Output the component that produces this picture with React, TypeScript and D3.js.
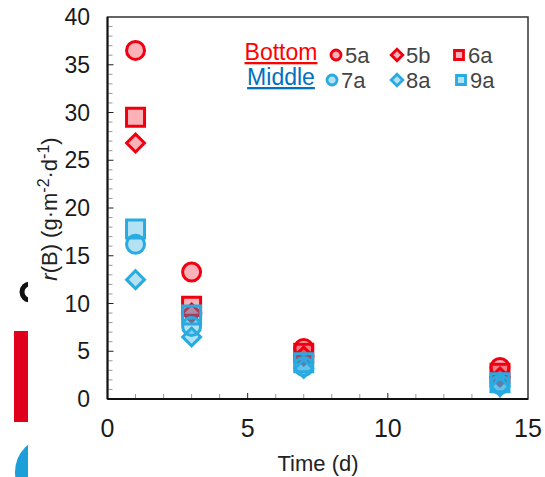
import React, { useEffect, useRef } from 'react';
import * as d3 from 'd3';

// sampling days
const days = [1, 3, 7, 14];

// r(B) values per column
const s5a = [36.5, 13.3, 5.3, 3.3];
const s5b = [26.8, 9.0, 4.5, 2.3];
const s6a = [29.5, 9.7, 4.8, 2.7];
const s7a = [16.2, 7.6, 3.4, 1.5];
const s8a = [12.5, 6.5, 3.2, 1.3];
const s9a = [17.8, 8.8, 3.8, 1.7];

const seriesNames = ['5a', '5b', '6a', '7a', '8a', '9a'];
const seriesShapes = ['circle', 'diamond', 'square', 'circle', 'diamond', 'square'];
const groupNames = ['Bottom', 'Middle'];

const xTicks = [0, 5, 10, 15];
const yTicks = [0, 5, 10, 15, 20, 25, 30, 35, 40];

const RED = '#f0000f';
const RED_FILL = 'rgba(240,0,20,0.3)';
const BLUE = '#29abe2';
const BLUE_FILL = 'rgba(41,171,226,0.35)';
const FONT = '"Liberation Sans", Arial, sans-serif';

const shapePath = (shape: string, size: number) => {
  if (shape === 'circle') {
    const p = d3.path();
    p.arc(0, 0, size, 0, Math.PI * 2);
    p.closePath();
    return p.toString();
  }
  if (shape === 'square') {
    return `M${-size},${-size}H${size}V${size}H${-size}Z`;
  }
  const d = size * 1.05;
  return `M0,${-d}L${d},0L0,${d}L${-d},0Z`;
};

const App = () => {
  const svgRef = useRef<SVGSVGElement>(null);

  useEffect(() => {
    const values = [s5a, s5b, s6a, s7a, s8a, s9a];
    const svg = d3.select(svgRef.current);
    svg.selectAll('*').remove();

    const x = d3.scaleLinear().domain([0, 15]).range([107.5, 528]);
    const y = d3.scaleLinear().domain([0, 40]).range([399, 17]);

    // leftover bits of the neighbouring figure
    const left = svg.append('g');
    left.append('defs').append('clipPath').attr('id', 'cut')
      .append('rect').attr('x', 14).attr('y', 0).attr('width', 14).attr('height', 477);
    const cut = left.append('g').attr('clip-path', 'url(#cut)');
    cut.append('circle').attr('cx', 30).attr('cy', 292).attr('r', 8)
      .attr('fill', 'none').attr('stroke', '#111').attr('stroke-width', 5);
    cut.append('rect').attr('x', 14).attr('y', 331).attr('width', 14).attr('height', 91)
      .attr('fill', '#e0001b');
    cut.append('circle').attr('cx', 50).attr('cy', 472).attr('r', 35).attr('fill', '#1a9fd9');

    // frame
    svg.append('rect')
      .attr('x', x(0)).attr('y', y(40))
      .attr('width', x(15) - x(0)).attr('height', y(0) - y(40))
      .attr('fill', 'none').attr('stroke', '#333').attr('stroke-width', 1.5);

    // minor / major ticks, pointing inward
    const g = svg.append('g');
    d3.range(1, 40).forEach((v) => {
      g.append('line')
        .attr('x1', x(0)).attr('x2', x(0) + (v % 5 === 0 ? 6 : 5))
        .attr('y1', y(v)).attr('y2', y(v))
        .attr('stroke', v % 5 === 0 ? '#222' : '#999').attr('stroke-width', 1);
    });
    d3.range(1, 15).forEach((v) => {
      g.append('line')
        .attr('x1', x(v)).attr('x2', x(v))
        .attr('y1', y(0)).attr('y2', y(0) - (v % 5 === 0 ? 6 : 5))
        .attr('stroke', v % 5 === 0 ? '#222' : '#999').attr('stroke-width', 1);
    });

    // axis lines
    svg.append('line').attr('x1', x(0)).attr('x2', x(0)).attr('y1', y(40)).attr('y2', y(0))
      .attr('stroke', '#111').attr('stroke-width', 2);
    svg.append('line').attr('x1', x(0)).attr('x2', x(15)).attr('y1', y(0)).attr('y2', y(0))
      .attr('stroke', '#111').attr('stroke-width', 2);

    // tick labels
    svg.append('g').selectAll('text').data(yTicks).join('text')
      .attr('x', 90).attr('y', (d) => y(d) + 8)
      .attr('text-anchor', 'end')
      .attr('font-family', FONT).attr('font-size', 23).attr('fill', '#1a1a1a')
      .text((d) => d);
    svg.append('g').selectAll('text').data(xTicks).join('text')
      .attr('x', (d) => x(d)).attr('y', 437)
      .attr('text-anchor', 'middle')
      .attr('font-family', FONT).attr('font-size', 25).attr('fill', '#1a1a1a')
      .text((d) => d);

    // axis titles
    svg.append('text')
      .attr('x', 318).attr('y', 471)
      .attr('text-anchor', 'middle')
      .attr('font-family', FONT).attr('font-size', 22).attr('fill', '#222')
      .text('Time (d)');

    const yl = svg.append('text')
      .attr('transform', 'translate(57,209) rotate(-90)')
      .attr('text-anchor', 'middle')
      .attr('font-family', FONT).attr('font-size', 22).attr('fill', '#222');
    yl.append('tspan').attr('font-style', 'italic').text('r');
    yl.append('tspan').text('(B) (g·m');
    yl.append('tspan').attr('font-size', 16).attr('dy', -8).text('-2');
    yl.append('tspan').attr('dy', 8).text('·d');
    yl.append('tspan').attr('font-size', 16).attr('dy', -8).text('-1');
    yl.append('tspan').attr('dy', 8).text(')');

    // data markers
    const pts = svg.append('g');
    values.forEach((vals, i) => {
      const isRed = i < 3;
      const shape = seriesShapes[i];
      const size = shape === 'circle' ? 9 : shape === 'square' ? 9 : 8.5;
      pts.selectAll(`path.s${i}`).data(vals).join('path')
        .attr('class', `s${i}`)
        .attr('transform', (d, j) => `translate(${x(days[j])},${y(d)})`)
        .attr('d', shapePath(shape, size))
        .attr('fill', isRed ? RED_FILL : BLUE_FILL)
        .attr('stroke', isRed ? RED : BLUE)
        .attr('stroke-width', 3);
    });

    // legend
    const leg = svg.append('g');
    const groupX = [281, 281];
    const rowY = [55, 80];
    const colX = [[336, 397, 459], [332, 397, 461]];
    groupNames.forEach((name, r) => {
      leg.append('text')
        .attr('x', groupX[r]).attr('y', rowY[r] + 5)
        .attr('text-anchor', 'middle')
        .attr('font-family', FONT).attr('font-size', 23)
        .attr('fill', r === 0 ? '#ff0000' : '#0070c0')
        .attr('text-decoration', 'underline')
        .text(name);
    });
    seriesNames.forEach((name, i) => {
      const r = i < 3 ? 0 : 1;
      const c = i % 3;
      const shape = seriesShapes[i];
      const cx = colX[r][c];
      leg.append('path')
        .attr('transform', `translate(${cx},${rowY[r]})`)
        .attr('d', shapePath(shape, shape === 'diamond' ? 5.5 : shape === 'circle' ? 5 : 4.5))
        .attr('fill', r === 0 ? RED_FILL : BLUE_FILL)
        .attr('stroke', r === 0 ? RED : BLUE)
        .attr('stroke-width', 2.8);
      leg.append('text')
        .attr('x', cx + 9).attr('y', rowY[r] + 8)
        .attr('font-family', FONT).attr('font-size', 22).attr('fill', '#444')
        .text(name);
    });
  }, []);

  return (
    <svg
      ref={svgRef}
      width={545}
      height={477}
      style={{ position: 'absolute', left: 0, top: 0, background: '#fff' }}
    />
  );
};

export default App;
